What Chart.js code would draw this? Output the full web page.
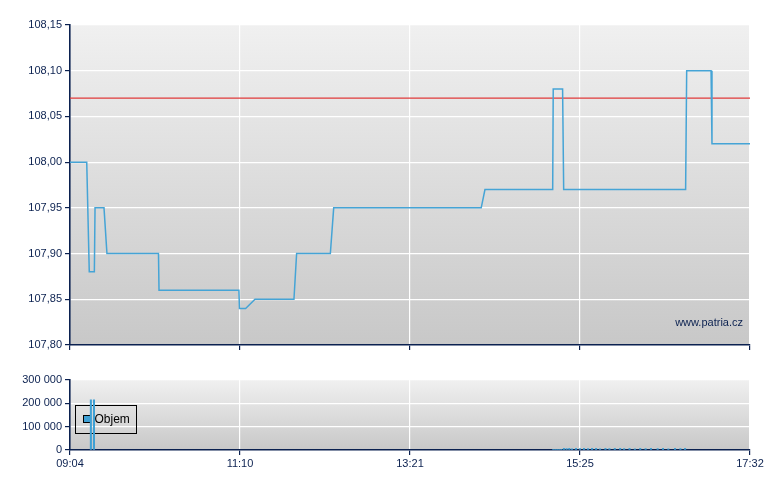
<!DOCTYPE html>
<html>
<head>
<meta charset="utf-8">
<script src="https://cdn.jsdelivr.net/npm/chart.js@4/dist/chart.umd.min.js"></script>
<style>
body{margin:0;background:#fff;width:780px;height:490px;overflow:hidden;position:relative;}
#priceBox{position:absolute;left:0;top:0;width:780px;height:360px;}
#volumeBox{position:absolute;left:0;top:360px;width:780px;height:130px;}
</style>
</head>
<body>
<div id="priceBox"><canvas id="priceChart" width="780" height="360"></canvas></div>
<div id="volumeBox"><canvas id="volumeChart" width="780" height="130"></canvas></div>
<script>
// time in minutes since midnight (09:04 = 544, 17:32 = 1052)
const timeLabels = ["09:04","11:10","13:21","15:25","17:32"];
const timeMin = 544;
const timeMax = 1052;

const priceTimes = [544,556.5,558.4,562.2,562.7,569.4,571.6,610.1,610.5,670.2,670.6,675.2,682.2,711.3,713.3,738.5,741.0,851.2,854.0,904.6,905.0,912.0,912.8,1003.9,1004.7,1022.9,1023.6,1052];
const priceValues = [108.00,108.00,107.88,107.88,107.95,107.95,107.90,107.90,107.86,107.86,107.84,107.84,107.85,107.85,107.90,107.90,107.95,107.95,107.97,107.97,108.08,108.08,107.97,107.97,108.10,108.10,108.02,108.02];
const prevClose = 108.07;

const volumeTimes = [559.6,561.9,905,906.5,908,909.5,911,913,915,917,919,922,925,928,931,934,937,940,944,947,951,955,958,962,966,970,974,978,983,987,991,996,1000,1003.5];
const volumeValues = [215000,215000,3000,3000,3000,3000,3000,7000,6000,7000,5000,7000,6000,7000,6000,7000,7000,5000,7000,6000,7000,7000,6000,7000,5000,7000,6000,7000,6000,7000,5000,7000,6000,7000];

const navy = "#0b2150";
const lineBlue = "#45a4d6";
const tickFont = {family:"'Liberation Sans', Arial, sans-serif", size:11};

const plotBackground = {
    id:"plotBackground",
    beforeDraw(chart){
        const a = chart.chartArea;
        const ctx = chart.ctx;
        const g = ctx.createLinearGradient(0,a.top,0,a.bottom);
        g.addColorStop(0,"#f0f0f0");
        g.addColorStop(1,"#c8c8c8");
        ctx.save();
        ctx.fillStyle = g;
        ctx.fillRect(a.left,a.top,a.right-a.left,a.bottom-a.top);
        ctx.restore();
    }
};

const watermark = {
    id:"watermark",
    afterDraw(chart){
        const a = chart.chartArea;
        const ctx = chart.ctx;
        ctx.save();
        ctx.font = "11px 'Liberation Sans', Arial, sans-serif";
        ctx.fillStyle = navy;
        ctx.textAlign = "right";
        ctx.textBaseline = "middle";
        ctx.fillText("www.patria.cz",a.right-7,a.bottom-22);
        ctx.restore();
    }
};

const boxLegend = {
    id:"boxLegend",
    beforeDatasetsDraw(chart){
        const a = chart.chartArea;
        const ctx = chart.ctx;
        const ds = chart.data.datasets[0];
        const x = a.left+5.5, y = a.top+25.5;
        ctx.save();
        ctx.strokeStyle = "#000";
        ctx.lineWidth = 1;
        ctx.strokeRect(x,y,61,28);
        ctx.fillStyle = ds.backgroundColor;
        ctx.fillRect(x+8,y+10,7,7);
        ctx.strokeRect(x+8,y+10,7,7);
        ctx.fillStyle = "#000";
        ctx.font = "12px 'Liberation Sans', Arial, sans-serif";
        ctx.textBaseline = "middle";
        ctx.fillText(ds.label,x+19,y+14.5);
        ctx.restore();
    }
};

function timeAxis(showLabels,height){
    return {
        type:"linear",
        min:timeMin,
        max:timeMax,
        offset:false,
        afterBuildTicks(scale){
            scale.ticks = timeLabels.map((_,i)=>({value:timeMin+i*(timeMax-timeMin)/(timeLabels.length-1)}));
        },
        afterFit(scale){ scale.height = height; },
        ticks:{
            display:showLabels,
            color:navy,
            font:tickFont,
            padding:2,
            maxRotation:0,
            autoSkip:false,
            callback:(v,i)=>timeLabels[i]
        },
        grid:{color:"#ffffff",tickColor:navy,tickLength:5,lineWidth:1.2,offset:false},
        border:{color:navy,width:1.6}
    };
}

const priceChart = new Chart(document.getElementById("priceChart"),{
    type:"line",
    data:{
        datasets:[
            {
                label:"Cena",
                data:priceTimes.map((t,i)=>({x:t,y:priceValues[i]})),
                borderColor:lineBlue,
                borderWidth:1.5,
                pointRadius:0,
                tension:0,
                fill:false
            },
            {
                label:"Předchozí závěr",
                data:[{x:timeMin,y:prevClose},{x:timeMax,y:prevClose}],
                borderColor:"#e03a3a",
                borderWidth:1.1,
                pointRadius:0,
                fill:false
            }
        ]
    },
    options:{
        responsive:false,
        animation:false,
        layout:{padding:{top:25,right:30,left:0,bottom:0}},
        plugins:{legend:{display:false},tooltip:{enabled:false}},
        scales:{
            x:timeAxis(false,15),
            y:{
                min:107.80,
                max:108.15,
                afterFit(scale){ scale.width = 70; },
                ticks:{
                    stepSize:0.05,
                    color:navy,
                    font:tickFont,
                    padding:3,
                    callback:v=>v.toFixed(2).replace(".",",")
                },
                grid:{color:"#ffffff",tickColor:navy,tickLength:5,lineWidth:1.2},
                border:{color:navy,width:1.6}
            }
        }
    },
    plugins:[plotBackground,watermark]
});

const volumeChart = new Chart(document.getElementById("volumeChart"),{
    type:"bar",
    data:{
        datasets:[
            {
                label:"Objem",
                data:volumeTimes.map((t,i)=>({x:t,y:volumeValues[i]})),
                backgroundColor:"#3fa0d4",
                barThickness:1.4
            }
        ]
    },
    options:{
        responsive:false,
        animation:false,
        layout:{padding:{top:20,right:30,left:0,bottom:0}},
        plugins:{legend:{display:false},tooltip:{enabled:false}},
        scales:{
            x:timeAxis(true,40),
            y:{
                min:0,
                max:300000,
                afterFit(scale){ scale.width = 70; },
                ticks:{
                    stepSize:100000,
                    color:navy,
                    font:tickFont,
                    padding:3,
                    callback:v=>String(v).replace(/\B(?=(\d{3})+(?!\d))/g," ")
                },
                grid:{color:"#ffffff",tickColor:navy,tickLength:5,lineWidth:1.2},
                border:{color:navy,width:1.6}
            }
        }
    },
    plugins:[plotBackground,boxLegend]
});
</script>
</body>
</html>
